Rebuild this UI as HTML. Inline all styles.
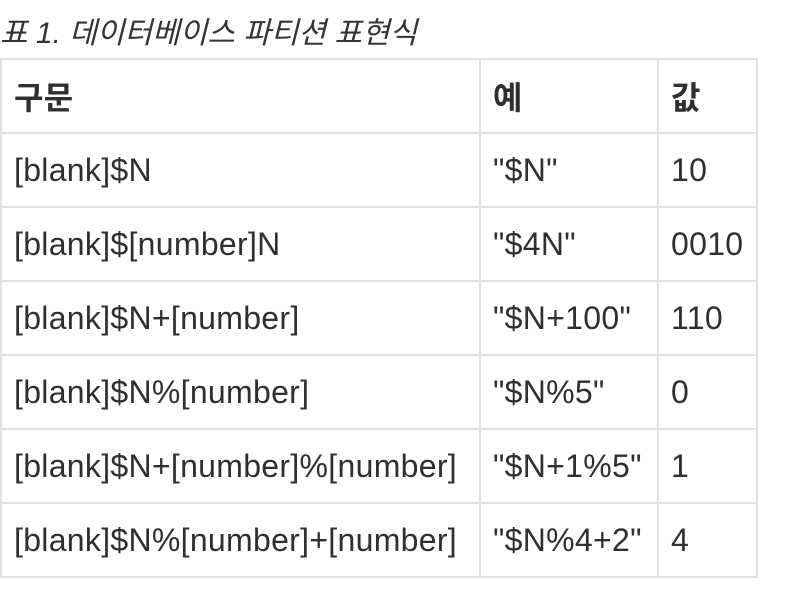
<!DOCTYPE html>
<html><head><meta charset="utf-8"><style>
body{margin:0;width:802px;height:594px;background:#fff;overflow:hidden;font-family:"Liberation Sans","Noto Sans CJK KR",sans-serif;color:#2f2f2f;position:relative}
.cap{position:absolute;left:0;top:16px;font-size:30px;font-style:italic;line-height:36px;color:#333}
table{position:absolute;left:0;top:58px;border-collapse:collapse;font-size:32px;letter-spacing:0.3px;table-layout:fixed;width:756px}
td,th{border:2px solid #e0e0e0;height:74px;padding:0 0 0 12px;text-align:left;white-space:nowrap;box-sizing:border-box;overflow:visible}
th{font-weight:bold}
</style></head><body>
<div class="cap">표 1. 데이터베이스 파티션 표현식</div>
<table>
<colgroup><col style="width:479px"><col style="width:178px"><col style="width:99px"></colgroup>
<tr><th>구문</th><th>예</th><th>값</th></tr>
<tr><td>[blank]$N</td><td>"$N"</td><td>10</td></tr>
<tr><td>[blank]$[number]N</td><td>"$4N"</td><td>0010</td></tr>
<tr><td>[blank]$N+[number]</td><td>"$N+100"</td><td>110</td></tr>
<tr><td>[blank]$N%[number]</td><td>"$N%5"</td><td>0</td></tr>
<tr><td>[blank]$N+[number]%[number]</td><td>"$N+1%5"</td><td>1</td></tr>
<tr><td>[blank]$N%[number]+[number]</td><td>"$N%4+2"</td><td>4</td></tr>
</table>
</body></html>
